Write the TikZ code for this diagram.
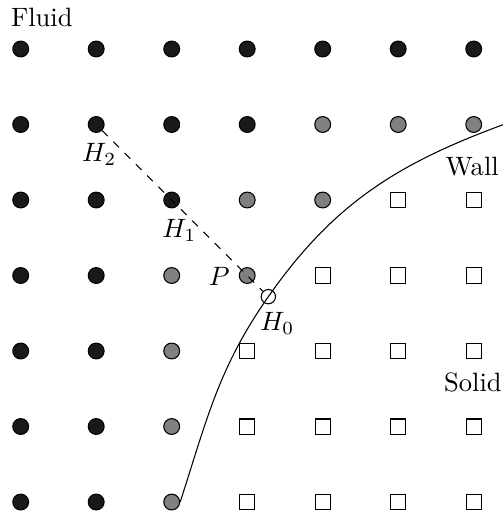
\documentclass[tikz,border=0pt]{standalone}
\usepackage{amsmath}
\usepackage{tikz}
\usetikzlibrary{positioning}
\usepackage{xcolor}
\definecolor{ghostgrey}{RGB}{128,128,128}
\definecolor{fluidblack}{RGB}{25,25,25}

\begin{document}
\begin{tikzpicture}[
    fluidpt/.style={circle, draw=black, fill=fluidblack, inner sep=0pt,
        minimum size=0.21cm},
    ghostpt/.style={circle, draw=black, fill=ghostgrey, inner sep=0pt,
        minimum size=0.21cm, thin},
    solidpt/.style={rectangle, draw=black, fill=white, inner sep=0pt,
        minimum size=0.2cm, thin},
    imagept/.style={circle, draw=black, fill=none, inner sep=0pt,
        minimum size=0.19cm, thin},
    lbl/.style={inner sep=1pt, font=\normalsize}
]
\useasboundingbox (-0.274,-0.185) rectangle (6.375,6.649);
% lattice: per row the last fluid column and the last ghost column
\foreach \r/\lastf/\lastg in {6/6/6, 5/3/6, 4/2/4, 3/1/3, 2/1/2, 1/1/2, 0/1/2} {
    \foreach \c in {0,...,6} {
        \ifnum\c>\lastg
            \node[solidpt] (n\c\r) at (\c,\r) {};
        \else\ifnum\c>\lastf
            \node[ghostpt] (n\c\r) at (\c,\r) {};
        \else
            \node[fluidpt] (n\c\r) at (\c,\r) {};
        \fi\fi
    }
}
\node[imagept] (H0) at (3.28,2.72) {};
\coordinate (wallend) at (6.45,5.02);
% wall and normal probe
\draw (n20.east) to[out=72,in=235] (H0.center) to[out=55,in=200] (wallend);
\draw[dashed] (n15) -- (H0);
\node[lbl] (lH2) at (1.04,4.60) {$H_2$};
\node[lbl] (lH1) at (2.10,3.60) {$H_1$};
\node[lbl] (lP) at (2.63,2.99) {$P$};
\node[lbl] (lH0) at (3.40,2.37) {$H_0$};
\node[lbl] (wall) at (5.98,4.44) {Wall};
\node[lbl] (solid) at (5.99,1.58) {Solid};
\node[lbl] (fluid) at (0.28,6.42) {Fluid};
\end{tikzpicture}
\end{document}
